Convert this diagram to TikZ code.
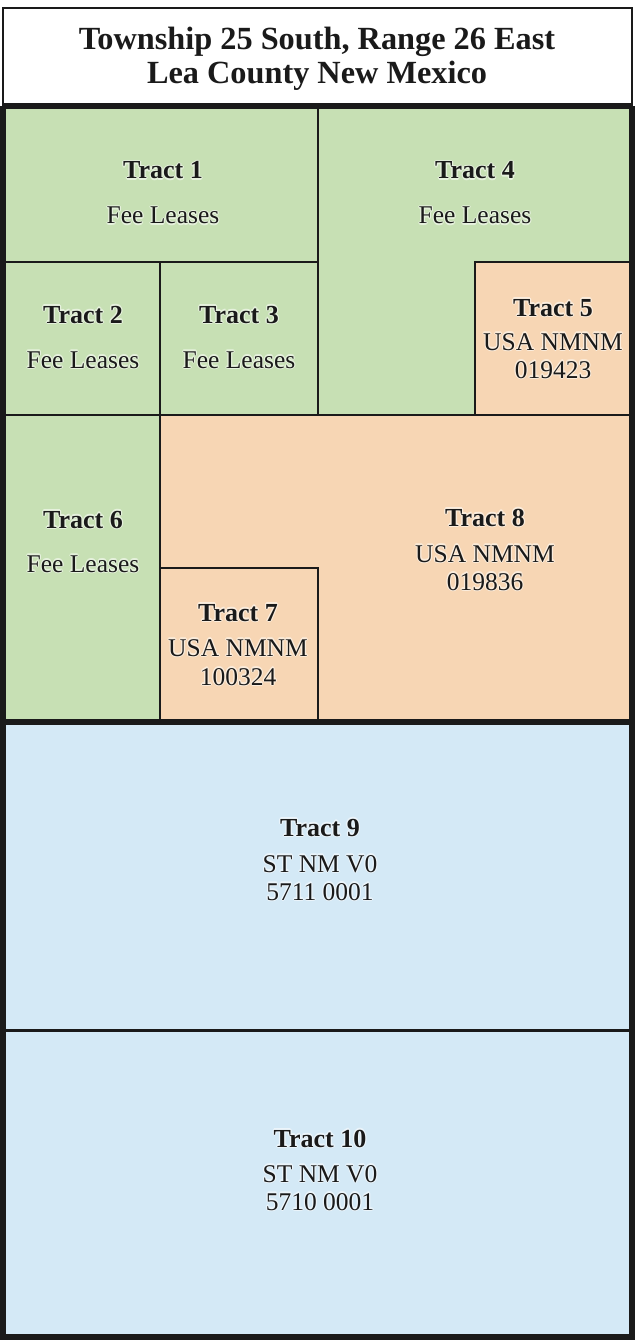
\documentclass[tikz,border=0pt]{standalone}
\usepackage{fontspec}
\setmainfont{Liberation Serif}
\definecolor{fgreen}{RGB}{199,224,180}
\definecolor{forange}{RGB}{247,214,180}
\definecolor{fblue}{RGB}{212,233,246}
\definecolor{ink}{RGB}{26,26,26}
\colorlet{ggreen}{white!55!fgreen}
\colorlet{gorange}{white!55!forange}
\colorlet{gblue}{white!55!fblue}
\newcommand{\glowcp}[3]{\rlap{\kern#1\raise#2\hbox{#3}}}
\newcommand{\glowtext}[2]{\leavevmode\rlap{\color{#1}%
  \glowcp{1.2pt}{0pt}{#2}\glowcp{-1.2pt}{0pt}{#2}%
  \glowcp{0pt}{1.2pt}{#2}\glowcp{0pt}{-1.2pt}{#2}%
  \glowcp{0.85pt}{0.85pt}{#2}\glowcp{-0.85pt}{0.85pt}{#2}%
  \glowcp{0.85pt}{-0.85pt}{#2}\glowcp{-0.85pt}{-0.85pt}{#2}}#2}
\newcommand{\tname}[2]{{\fontsize{26}{30}\selectfont\bfseries\glowtext{#1}{#2}}}
\newcommand{\tsub}[2]{{\fontsize{25.5}{28}\selectfont\glowtext{#1}{#2}}}
\tikzset{
  tract/.style={draw=ink, line width=2pt, line join=miter},
  lbl/.style={anchor=base, inner sep=0pt, text=ink},
}
\begin{document}
\begin{tikzpicture}[x=1pt,y=-1pt]
\useasboundingbox (0,0) rectangle (635,1340);
% title box
\path[tract, fill=white] (3,8) rectangle (632,106);
\node[lbl] (title1) at (317,50) {\fontsize{32.3}{34}\selectfont\bfseries Township 25 South, Range 26 East};
\node[lbl] (title2) at (317,84) {\fontsize{32.3}{34}\selectfont\bfseries Lea County New Mexico};
% tracts
\path[tract, fill=fgreen] (3,106) rectangle (318,262);
\path[tract, fill=fgreen] (318,106) -- (632,106) -- (632,262) -- (475,262) -- (475,415) -- (318,415) -- cycle;
\path[tract, fill=fgreen] (3,262) rectangle (160,415);
\path[tract, fill=fgreen] (160,262) rectangle (318,415);
\path[tract, fill=forange] (475,262) rectangle (632,415);
\path[tract, fill=fgreen] (3,415) rectangle (160,722);
\path[tract, fill=forange] (160,415) -- (632,415) -- (632,722) -- (318,722) -- (318,568) -- (160,568) -- cycle;
\path[tract, fill=forange] (160,568) rectangle (318,722);
\path[tract, fill=fblue] (3,722) rectangle (632,1030);
\path[tract, fill=fblue] (3,1030) rectangle (632,1337);
% thick dividers and frame
\draw[ink, line width=6pt] (3,106) -- (632,106);
\draw[ink, line width=6pt] (3,722) -- (632,722);
\draw[ink, line width=3pt] (3,1030) -- (632,1030);
\draw[ink, line width=6pt, line join=miter] (3,106) -- (3,1337) -- (632,1337) -- (632,106);
% labels
\node[lbl] (t1a) at (163,179) {\tname{ggreen}{Tract 1}};
\node[lbl] (t1b) at (163,224) {\tsub{ggreen}{Fee Leases}};
\node[lbl] (t4a) at (475,179) {\tname{ggreen}{Tract 4}};
\node[lbl] (t4b) at (475,224) {\tsub{ggreen}{Fee Leases}};
\node[lbl] (t2a) at (83,323) {\tname{ggreen}{Tract 2}};
\node[lbl] (t2b) at (83,368) {\tsub{ggreen}{Fee Leases}};
\node[lbl] (t3a) at (239,323) {\tname{ggreen}{Tract 3}};
\node[lbl] (t3b) at (239,368) {\tsub{ggreen}{Fee Leases}};
\node[lbl] (t5a) at (553,316) {\tname{gorange}{Tract 5}};
\node[lbl] (t5b) at (553,350) {\tsub{gorange}{USA NMNM}};
\node[lbl] (t5c) at (553,378) {\tsub{gorange}{019423}};
\node[lbl] (t6a) at (83,528) {\tname{ggreen}{Tract 6}};
\node[lbl] (t6b) at (83,572) {\tsub{ggreen}{Fee Leases}};
\node[lbl] (t7a) at (238,621) {\tname{gorange}{Tract 7}};
\node[lbl] (t7b) at (238,656) {\tsub{gorange}{USA NMNM}};
\node[lbl] (t7c) at (238,685) {\tsub{gorange}{100324}};
\node[lbl] (t8a) at (485,526) {\tname{gorange}{Tract 8}};
\node[lbl] (t8b) at (485,562) {\tsub{gorange}{USA NMNM}};
\node[lbl] (t8c) at (485,590) {\tsub{gorange}{019836}};
\node[lbl] (t9a) at (320,836) {\tname{gblue}{Tract 9}};
\node[lbl] (t9b) at (320,872) {\tsub{gblue}{ST NM V0}};
\node[lbl] (t9c) at (320,900) {\tsub{gblue}{5711 0001}};
\node[lbl] (t10a) at (320,1147) {\tname{gblue}{Tract 10}};
\node[lbl] (t10b) at (320,1182) {\tsub{gblue}{ST NM V0}};
\node[lbl] (t10c) at (320,1210) {\tsub{gblue}{5710 0001}};
\end{tikzpicture}
\end{document}
